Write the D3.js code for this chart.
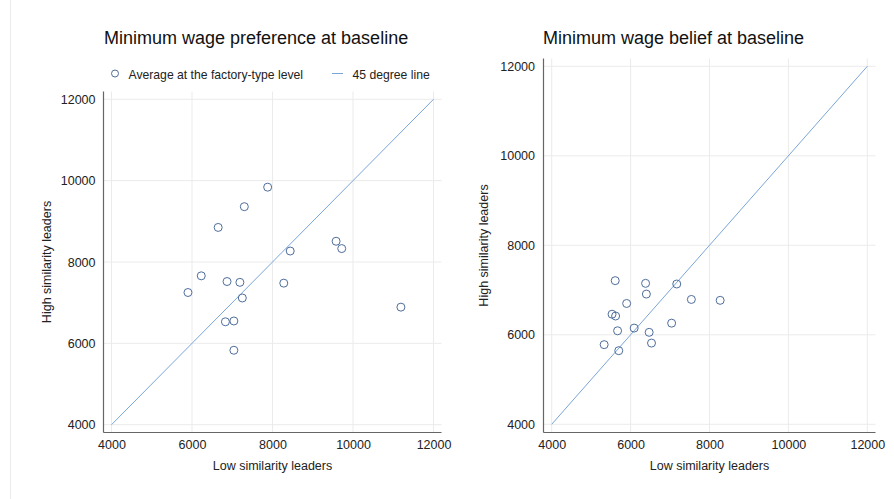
<!DOCTYPE html>
<html>
<head>
<meta charset="utf-8">
<script src="https://cdn.jsdelivr.net/npm/d3@7"></script>
<style>
  body { margin: 0; background: #fff; }
  svg { display: block; font-family: "Liberation Sans", Arial, sans-serif; }
</style>
</head>
<body>
<svg id="chart" width="894" height="499"></svg>
<script>
// data
const ticks = [4000, 6000, 8000, 10000, 12000];

const prefLow  = [7880, 7300, 6650, 9580, 9720, 8440, 6230, 6870, 7190, 8280, 5900, 7250, 11190, 6830, 7040, 7040];
const prefHigh = [9840, 9360, 8850, 8510, 8330, 8270, 7660, 7520, 7500, 7480, 7250, 7115, 6890, 6530, 6550, 5830];

const beliefLow  = [5610, 6380, 7170, 6400, 5900, 7540, 8270, 5530, 5620, 7040, 6090, 5670, 6470, 5330, 6530, 5700];
const beliefHigh = [7210, 7150, 7135, 6910, 6700, 6790, 6770, 6460, 6420, 6260, 6150, 6090, 6055, 5780, 5815, 5645];

const lineColor = '#7aa5da';
const dotColor = '#4f6d9a';

const svg = d3.select('#chart');

// faint frame line at far left
svg.append('line')
  .attr('x1', 10.5).attr('x2', 10.5)
  .attr('y1', 0).attr('y2', 499)
  .attr('stroke', '#ececec');

function drawPanel(cfg) {
  const x = d3.scaleLinear().domain([4000, 12000]).range(cfg.xRange);
  const y = d3.scaleLinear().domain([4000, 12000]).range(cfg.yRange);
  const f = cfg.frame;
  const g = svg.append('g');

  // gridlines
  g.selectAll('.vgrid').data(ticks).enter().append('line')
    .attr('x1', d => x(d)).attr('x2', d => x(d))
    .attr('y1', f.top).attr('y2', f.bottom)
    .attr('stroke', '#ebebeb').attr('stroke-width', 1);
  g.selectAll('.hgrid').data(ticks).enter().append('line')
    .attr('x1', f.left).attr('x2', f.right)
    .attr('y1', d => y(d)).attr('y2', d => y(d))
    .attr('stroke', '#ebebeb').attr('stroke-width', 1);

  // tick labels via d3 axis, domain lines drawn by hand
  const xAxis = d3.axisBottom(x).tickValues(ticks).tickSize(0).tickPadding(8).tickFormat(d3.format('d'));
  const yAxis = d3.axisLeft(y).tickValues(ticks).tickSize(0).tickPadding(8).tickFormat(d3.format('d'));

  const gx = g.append('g').attr('transform', `translate(0,${f.bottom})`).call(xAxis);
  gx.select('.domain').remove();
  gx.selectAll('text').attr('font-size', 12.5).attr('fill', '#222').attr('font-family', null);

  const gy = g.append('g').attr('transform', `translate(${f.left},0)`).call(yAxis);
  gy.select('.domain').remove();
  gy.selectAll('text').attr('font-size', 12.5).attr('fill', '#222').attr('font-family', null)
    .attr('x', cfg.yTickRight - f.left);

  g.append('line').attr('x1', f.left).attr('x2', f.right).attr('y1', f.bottom).attr('y2', f.bottom)
    .attr('stroke', '#666').attr('stroke-width', 1.2);
  g.append('line').attr('x1', f.left).attr('x2', f.left).attr('y1', f.top).attr('y2', f.bottom)
    .attr('stroke', '#666').attr('stroke-width', 1.2);

  // 45 degree line
  g.append('line')
    .attr('x1', x(4000)).attr('y1', y(4000))
    .attr('x2', x(12000)).attr('y2', y(12000))
    .attr('stroke', lineColor).attr('stroke-width', 1);

  // points
  g.selectAll('.pt').data(cfg.low).enter().append('circle')
    .attr('cx', d => x(d))
    .attr('cy', (d, i) => y(cfg.high[i]))
    .attr('r', 4)
    .attr('fill', 'none')
    .attr('stroke', dotColor)
    .attr('stroke-width', 1);

  // titles and labels
  g.append('text').attr('x', cfg.titleX).attr('y', 43.5)
    .attr('font-size', 18).attr('fill', '#111').text(cfg.title);

  g.append('text')
    .attr('x', (x(4000) + x(12000)) / 2).attr('y', 469.5)
    .attr('text-anchor', 'middle').attr('font-size', 12.5).attr('fill', '#222')
    .text('Low similarity leaders');

  g.append('text')
    .attr('transform', `translate(${cfg.yLabelX},${(f.top + f.bottom) / 2}) rotate(-90)`)
    .attr('text-anchor', 'middle').attr('font-size', 12.5).attr('fill', '#222')
    .text('High similarity leaders');
}

drawPanel({
  title: 'Minimum wage preference at baseline',
  titleX: 104,
  low: prefLow, high: prefHigh,
  xRange: [111.5, 433.5], yRange: [424.7, 99.3],
  frame: { left: 103.5, right: 441.5, top: 91.5, bottom: 432.5 },
  yTickRight: 95.5,
  yLabelX: 51
});

drawPanel({
  title: 'Minimum wage belief at baseline',
  titleX: 543,
  low: beliefLow, high: beliefHigh,
  xRange: [551.7, 867.3], yRange: [424.3, 66.3],
  frame: { left: 543.5, right: 875.5, top: 58.5, bottom: 432.5 },
  yTickRight: 535,
  yLabelX: 488
});

// legend (left panel only)
const legend = svg.append('g');
legend.append('circle').attr('cx', 115).attr('cy', 73.5).attr('r', 3.5)
  .attr('fill', 'none').attr('stroke', dotColor).attr('stroke-width', 1);
legend.append('text').attr('x', 128.5).attr('y', 78.5)
  .attr('font-size', 12.2).attr('fill', '#222').text('Average at the factory-type level');
legend.append('line').attr('x1', 332).attr('x2', 343).attr('y1', 73.5).attr('y2', 73.5)
  .attr('stroke', lineColor).attr('stroke-width', 1);
legend.append('text').attr('x', 352.5).attr('y', 78.5)
  .attr('font-size', 12.2).attr('fill', '#222').text('45 degree line');
</script>
</body>
</html>
